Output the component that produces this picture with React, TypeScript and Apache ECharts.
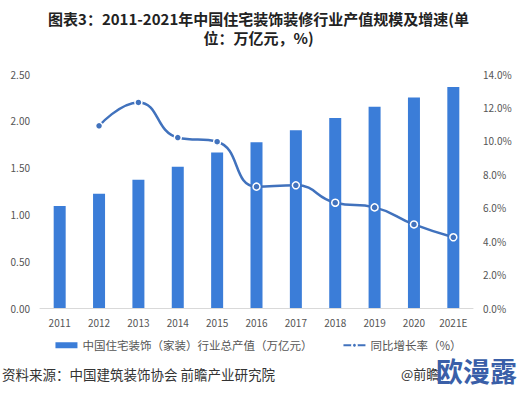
import React, { useEffect, useRef } from "react";
import * as echarts from "echarts";

const categories = ["2011", "2012", "2013", "2014", "2015", "2016", "2017", "2018", "2019", "2020", "2021E"];
const outputValues = [1.09, 1.22, 1.37, 1.51, 1.66, 1.77, 1.9, 2.03, 2.15, 2.25, 2.36];
const growthRates = [null, 10.9, 12.3, 10.2, 9.95, 7.26, 7.34, 6.3, 6.02, 5.0, 4.23];
const titleLines = ["图表3：2011-2021年中国住宅装饰装修行业产值规模及增速(单", "位：万亿元，%)"];

const FONT = "'Noto Sans CJK SC', 'Noto Sans', sans-serif";

export default function App() {
  const ref = useRef<HTMLDivElement>(null);
  useEffect(() => {
    document.body.style.margin = "0";
    const chart = echarts.init(ref.current!, null, { renderer: "svg" });
    const titleStyle = { fontSize: 15, fontWeight: "bold", color: "#222", fontFamily: FONT };
    chart.setOption({
      animation: false,
      backgroundColor: "#fff",
      textStyle: { fontFamily: FONT },
      title: [
        { text: titleLines[0], left: "center", top: 6, textStyle: titleStyle },
        { text: titleLines[1], left: "center", top: 25, textStyle: titleStyle },
      ],
      grid: { left: 40, right: 44, top: 74, bottom: 85 },
      legend: {
        bottom: 37,
        left: "center",
        itemGap: 30,
        itemWidth: 22,
        itemHeight: 6,
        textStyle: { fontSize: 11.5, color: "#555", fontFamily: FONT },
        data: [
          { name: "中国住宅装饰（家装）行业总产值（万亿元）", icon: "rect" },
          { name: "同比增长率（%）" },
        ],
      },
      xAxis: {
        type: "category",
        data: categories,
        axisLine: { lineStyle: { color: "#d9d9d9" } },
        axisTick: { show: false },
        axisLabel: { fontSize: 10, color: "#555", margin: 9 },
      },
      yAxis: [
        {
          type: "value",
          min: 0,
          max: 2.5,
          interval: 0.5,
          splitLine: { show: false },
          axisLine: { show: false },
          axisTick: { show: false },
          axisLabel: { fontSize: 10, color: "#555", formatter: (v: number) => v.toFixed(2), margin: 10 },
        },
        {
          type: "value",
          min: 0,
          max: 14,
          interval: 2,
          splitLine: { show: false },
          axisLine: { show: false },
          axisTick: { show: false },
          axisLabel: { fontSize: 10, color: "#555", formatter: (v: number) => v.toFixed(1) + "%", margin: 10 },
        },
      ],
      series: [
        {
          name: "中国住宅装饰（家装）行业总产值（万亿元）",
          type: "bar",
          data: outputValues,
          barWidth: 12,
          itemStyle: { color: "#3b7dd8" },
        },
        {
          name: "同比增长率（%）",
          type: "line",
          yAxisIndex: 1,
          data: growthRates,
          smooth: true,
          symbol: "circle",
          symbolSize: 7,
          lineStyle: { color: "#4172bd", width: 2.5 },
          itemStyle: { color: "#4172bd", borderColor: "#fff", borderWidth: 1.5 },
        },
      ],
      graphic: [
        {
          type: "text",
          left: 2,
          top: 367,
          style: { text: "资料来源：中国建筑装饰协会 前瞻产业研究院", fontSize: 13.5, fill: "#333", fontFamily: FONT },
        },
        {
          type: "text",
          left: 401,
          top: 367,
          style: { text: "@前瞻", fontSize: 13, fill: "#333", fontFamily: FONT },
        },
        {
          type: "text",
          left: 436,
          top: 357,
          style: { text: "欧漫露", fontSize: 27, fontWeight: "bold", fill: "#3a5fa8", fontFamily: FONT },
        },
      ],
    });
    return () => chart.dispose();
  }, []);
  return <div ref={ref} style={{ width: 517, height: 393 }} />;
}
